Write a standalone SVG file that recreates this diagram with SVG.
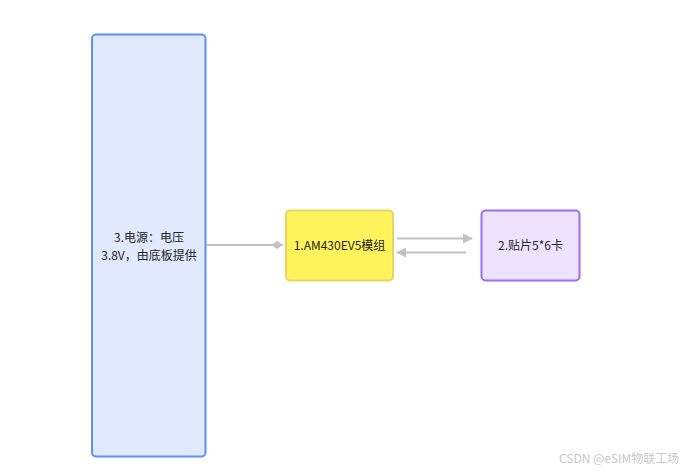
<svg xmlns="http://www.w3.org/2000/svg" width="692" height="473" viewBox="0 0 692 473">
<style>
.lbl{font-family:"Noto Sans CJK SC","Noto Sans",sans-serif;font-size:12px;fill:#262626;text-anchor:middle}
.edge{stroke:#c2c2c2;stroke-width:2;fill:none}
.wm{font-family:"Noto Sans CJK SC","Noto Sans",sans-serif;font-size:12px;fill:#c8c8c8}
</style>
<defs>
<marker id="arr" markerWidth="10" markerHeight="10" refX="9" refY="5" orient="auto" markerUnits="userSpaceOnUse">
<path d="M0,0 L10,5 L0,10 Z" fill="#c2c2c2"/>
</marker>
<marker id="dia" markerWidth="14" markerHeight="10" refX="13" refY="5" orient="auto" markerUnits="userSpaceOnUse">
<path d="M1,5 L7,1 L13,5 L7,9 Z" fill="#c2c2c2"/>
</marker>
</defs>
<rect width="692" height="473" fill="#ffffff"/>
<g id="connectors">
<line class="edge" x1="206" y1="245" x2="283" y2="245" marker-end="url(#dia)"/>
<line class="edge" x1="397" y1="238.5" x2="472" y2="238.5" marker-end="url(#arr)"/>
<line class="edge" x1="466" y1="252.5" x2="397" y2="252.5" marker-end="url(#arr)"/>
</g>
<g id="node3">
<rect x="92" y="34.5" width="113.5" height="422" rx="4" fill="#e0e9fe" stroke="#5b8ff9" stroke-width="2"/>
<text class="lbl" x="149" y="242">3.电源：电压</text>
<text class="lbl" x="149" y="260">3.8V，由底板提供</text>
</g>
<g id="node1">
<rect x="286" y="210.5" width="107" height="70" rx="4" fill="#fff35c" stroke="#e5d563" stroke-width="2"/>
<text class="lbl" x="339.5" y="250">1.AM430EV5模组</text>
</g>
<g id="node2">
<rect x="481.5" y="210.5" width="98" height="70" rx="4" fill="#ede3fe" stroke="#9b6cf5" stroke-width="2"/>
<text class="lbl" x="530.5" y="250">2.贴片5*6卡</text>
</g>
<text class="wm" x="559" y="463">CSDN @eSIM物联工场</text>
</svg>
